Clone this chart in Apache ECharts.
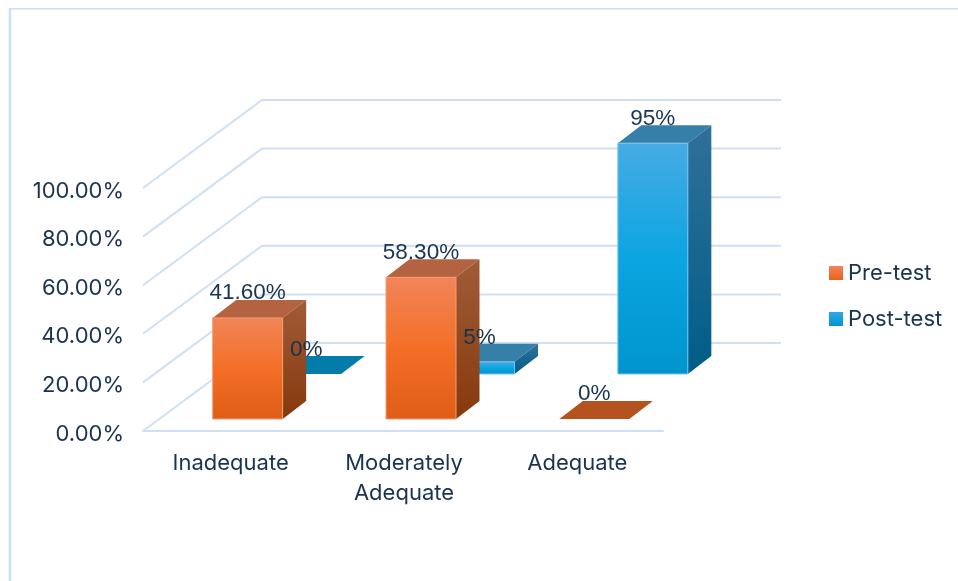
<!DOCTYPE html>
<html>
<head>
<meta charset="utf-8">
<style>html,body{margin:0;padding:0;background:#fff}#chart{width:958px;height:581px}</style>
<script src="https://cdn.jsdelivr.net/npm/echarts@6/dist/echarts.min.js"></script>
</head>
<body>
<div id="chart"></div>
<script>
const categories = ['Inadequate', 'Moderately\nAdequate', 'Adequate'];
const yTicks = [0, 20, 40, 60, 80, 100];
const preValues = [41.6, 58.3, 0];
const postValues = [0, 5, 95];
const preLabels = ['41.60%', '58.30%', '0%'];
const postLabels = ['0%', '5%', '95%'];

// Oblique projection used to fake the 3D look on a flat cartesian grid.
const WALL = { dx: 119, dy: -88 };
const BAR = { width: 70, dx: 23.5, dy: -18 };
const ROW_PRE = { dx: 18, dy: -12, labelGap: 25 };
const ROW_POST = { dx: 76.5, dy: -57, labelGap: 24 };
const LINE = '#CFE0F4';
const INK = '#1A3350';
const SANS = 'Inter, sans-serif';
const { LinearGradient } = echarts.graphic;
const vgrad = stops => new LinearGradient(0, 0, 0, 1, stops.map((c, i) => ({ offset: i / (stops.length - 1), color: c })));

const PRE_LOOK = {
  front: vgrad(['#F28558', '#F36F28', '#E05D17']), side: vgrad(['#A05C38', '#86390B']),
  top: '#B3633F', flat: '#B5531E', edge: '#F29C74'
};
const POST_LOOK = {
  front: vgrad(['#47ABE4', '#0BA5E1', '#0094CD']), side: vgrad(['#30709A', '#005D87']),
  top: '#367FA9', flat: '#047CA9', edge: '#7CC4EA'
};
const legendSwatch = { pre: vgrad(['#F28558', '#E9621B']), post: vgrad(['#30A8E4', '#0095D0']) };

function boxRenderer(row, look) {
  return (params, api) => {
    const base = api.coord([api.value(0), 0]);
    const head = api.coord([api.value(0), api.value(1)]);
    const l = base[0] + row.dx - BAR.width / 2;
    const r = l + BAR.width;
    const b = base[1] + row.dy;
    const t = head[1] + row.dy;
    const poly = (points, fill, stroke) => ({
      type: 'polygon', shape: { points },
      style: { fill, stroke: stroke || fill, lineWidth: stroke ? 1 : 0 }
    });
    const cap = [[l, t], [r, t], [r + BAR.dx, t + BAR.dy], [l + BAR.dx, t + BAR.dy]];
    if (api.value(1) === 0) {
      return { type: 'group', children: [poly(cap, look.flat)] };
    }
    return {
      type: 'group',
      children: [
        poly(cap, look.top),
        poly([[r, t], [r + BAR.dx, t + BAR.dy], [r + BAR.dx, b + BAR.dy], [r, b]], look.side),
        poly([[l, t], [r, t], [r, b], [l, b]], look.front, look.edge)
      ]
    };
  };
}

function labelRenderer(row) {
  return (params, api) => {
    const head = api.coord([api.value(0), api.value(1)]);
    return {
      type: 'text',
      style: {
        text: api.value(2),
        x: head[0] + row.dx,
        y: head[1] + row.dy - row.labelGap,
        align: 'center', verticalAlign: 'middle',
        fill: INK, font: '22.5px "Liberation Sans", sans-serif'
      }
    };
  };
}

function wallRenderer(params, api) {
  const p = api.coord([0, api.value(0)]);
  const left = params.coordSys.x;
  const right = left + params.coordSys.width;
  return {
    type: 'polyline',
    shape: { points: [[left, p[1]], [left + WALL.dx, p[1] + WALL.dy], [right + WALL.dx - 1, p[1] + WALL.dy]] },
    style: { fill: null, stroke: LINE, lineWidth: 2 }
  };
}

const chart = echarts.init(document.getElementById('chart'), null, { renderer: 'canvas' });
chart.setOption({
  backgroundColor: '#fff',
  animation: false,
  textStyle: { fontFamily: SANS },
  grid: { left: 143, top: 188, width: 520, height: 243 },
  xAxis: {
    type: 'category',
    data: categories,
    axisTick: { show: false },
    axisLine: { lineStyle: { color: LINE, width: 2 } },
    axisLabel: { color: INK, fontSize: 22, fontFamily: SANS, lineHeight: 30, margin: 17, interval: 0, padding: [0, 0, 0, 2] }
  },
  yAxis: {
    type: 'value', min: 0, max: 100, interval: 20,
    axisLine: { show: false }, axisTick: { show: false }, splitLine: { show: false },
    axisLabel: {
      margin: 19,
      formatter: v => '{tick|' + v.toFixed(2) + '%}',
      rich: { tick: { color: INK, fontSize: 22, fontFamily: SANS, padding: [6, 0, 0, 0] } }
    }
  },
  legend: {
    orient: 'vertical', left: 824, top: 257, itemWidth: 14, itemHeight: 14, itemGap: 24, icon: 'rect',
    textStyle: { color: INK, fontSize: 22, fontFamily: SANS },
    data: [
      { name: 'Pre-test', itemStyle: { color: legendSwatch.pre } },
      { name: 'Post-test', itemStyle: { color: legendSwatch.post } }
    ]
  },
  graphic: [
    { type: 'line', silent: true, shape: { x1: 10, y1: 8, x2: 10, y2: 581 }, style: { stroke: '#CCE0F5', lineWidth: 2.5 } },
    { type: 'line', silent: true, shape: { x1: 9, y1: 8.8, x2: 958, y2: 8.8 }, style: { stroke: '#C8DEF3', lineWidth: 1.5 } }
  ],
  series: [
    { type: 'custom', name: 'walls', z: 1, silent: true, renderItem: wallRenderer, data: yTicks.map(v => [v]), encode: { y: 0 } },
    { type: 'custom', name: 'Post-test', z: 2, itemStyle: { color: legendSwatch.post }, renderItem: boxRenderer(ROW_POST, POST_LOOK), data: postValues.map((v, i) => [i, v]), encode: { x: 0, y: 1 } },
    { type: 'custom', name: 'Pre-test', z: 3, itemStyle: { color: legendSwatch.pre }, renderItem: boxRenderer(ROW_PRE, PRE_LOOK), data: preValues.map((v, i) => [i, v]), encode: { x: 0, y: 1 } },
    { type: 'custom', name: 'post labels', z: 4, silent: true, renderItem: labelRenderer(ROW_POST), data: postValues.map((v, i) => [i, v, postLabels[i]]), encode: { x: 0, y: 1 } },
    { type: 'custom', name: 'pre labels', z: 4, silent: true, renderItem: labelRenderer(ROW_PRE), data: preValues.map((v, i) => [i, v, preLabels[i]]), encode: { x: 0, y: 1 } }
  ]
});
</script>
</body>
</html>
